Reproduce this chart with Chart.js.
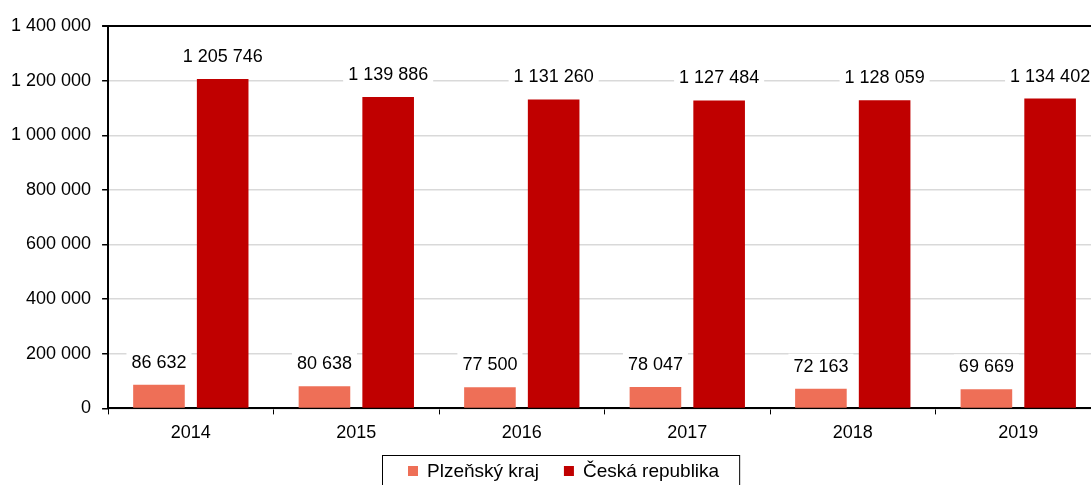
<!DOCTYPE html>
<html>
<head>
<meta charset="utf-8">
<script src="https://cdn.jsdelivr.net/npm/chart.js@4/dist/chart.umd.min.js"></script>
<style>
  html, body { margin: 0; padding: 0; background: #fff; overflow: hidden; }
  #clip { width: 1091px; height: 485px; overflow: hidden; }
  /* the source plot runs ~10px past the right edge */
  #wrap { width: 1101px; height: 485px; }
</style>
</head>
<body>
<div id="clip"><div id="wrap"><canvas id="chart"></canvas></div></div>
<script>
// data
const years = ['2014', '2015', '2016', '2017', '2018', '2019'];
const plzen = [86632, 80638, 77500, 78047, 72163, 69669];
const cesko = [1205746, 1139886, 1131260, 1127484, 1128059, 1134402];
const seriesNames = ['Plzeňský kraj', 'Česká republika'];
const seriesColors = ['#EE6F57', '#C00000'];

// 1 234 567 style
function fmt(v) {
  return String(Math.round(v)).replace(/\B(?=(\d{3})+(?!\d))/g, ' ');
}

const FONT = 'Liberation Sans, Arial, sans-serif';

// value labels on white boxes above the bars
const valueLabels = {
  id: 'valueLabels',
  afterDatasetsDraw(chart) {
    const ctx = chart.ctx;
    ctx.save();
    ctx.font = '18px ' + FONT;
    ctx.textAlign = 'center';
    ctx.textBaseline = 'middle';
    chart.data.datasets.forEach((ds, i) => {
      const meta = chart.getDatasetMeta(i);
      meta.data.forEach((bar, j) => {
        const txt = fmt(ds.data[j]);
        const w = ctx.measureText(txt).width;
        const y = bar.y - 23;
        ctx.fillStyle = '#fff';
        ctx.fillRect(bar.x - w / 2 - 5, y - 12, w + 10, 24);
        ctx.fillStyle = '#000';
        ctx.fillText(txt, bar.x, y + 1);
      });
    });
    ctx.restore();
  }
};

// legend in a framed box under the axis (bottom edge runs off the canvas)
const boxedLegend = {
  id: 'boxedLegend',
  afterDraw(chart) {
    const ctx = chart.ctx;
    const ds = chart.data.datasets;
    ctx.save();
    ctx.font = '19px ' + FONT;
    ctx.textBaseline = 'middle';
    ctx.textAlign = 'left';
    const startX = 408, midY = 472, box = 10;
    let x = startX;
    const right = [];
    ds.forEach((d, i) => {
      ctx.fillStyle = d.backgroundColor;
      ctx.fillRect(x, midY - box / 2 - 1, box, box);
      ctx.fillStyle = '#000';
      ctx.fillText(d.label, x + 19, midY);
      x = x + 19 + ctx.measureText(d.label).width;
      right.push(x);
      x += 25;
    });
    ctx.strokeStyle = '#000';
    ctx.lineWidth = 1;
    ctx.strokeRect(startX - 26 + 0.5, 455.5, right[right.length - 1] + 20 - (startX - 26), 40);
    ctx.restore();
  }
};

new Chart(document.getElementById('chart'), {
  type: 'bar',
  data: {
    labels: years,
    datasets: [
      { label: seriesNames[0], data: plzen, backgroundColor: seriesColors[0], borderWidth: 0 },
      { label: seriesNames[1], data: cesko, backgroundColor: seriesColors[1], borderWidth: 0 }
    ]
  },
  options: {
    responsive: true,
    maintainAspectRatio: false,
    animation: false,
    categoryPercentage: 0.77,
    barPercentage: 0.81,
    layout: { padding: { top: 26, right: 0, left: 0, bottom: 33 } },
    plugins: {
      legend: { display: false },
      tooltip: { enabled: false }
    },
    scales: {
      x: {
        grid: {
          offset: true,
          drawOnChartArea: false,
          drawTicks: true,
          tickLength: 6,
          tickColor: '#000'
        },
        border: { color: '#000', width: 2 },
        ticks: { font: { family: FONT, size: 18 }, color: '#000', padding: 8 }
      },
      y: {
        min: 0,
        max: 1400000,
        ticks: {
          stepSize: 200000,
          font: { family: FONT, size: 18 },
          color: '#000',
          padding: 11,
          callback: v => fmt(v)
        },
        grid: {
          color: c => (c.tick && c.tick.value === 1400000) ? '#000' : '#d9d9d9',
          lineWidth: c => (c.tick && c.tick.value === 1400000) ? 2 : 1.5,
          tickColor: '#000',
          tickLength: 6
        },
        border: { color: '#000', width: 2 }
      }
    }
  },
  plugins: [valueLabels, boxedLegend]
});
</script>
</body>
</html>
